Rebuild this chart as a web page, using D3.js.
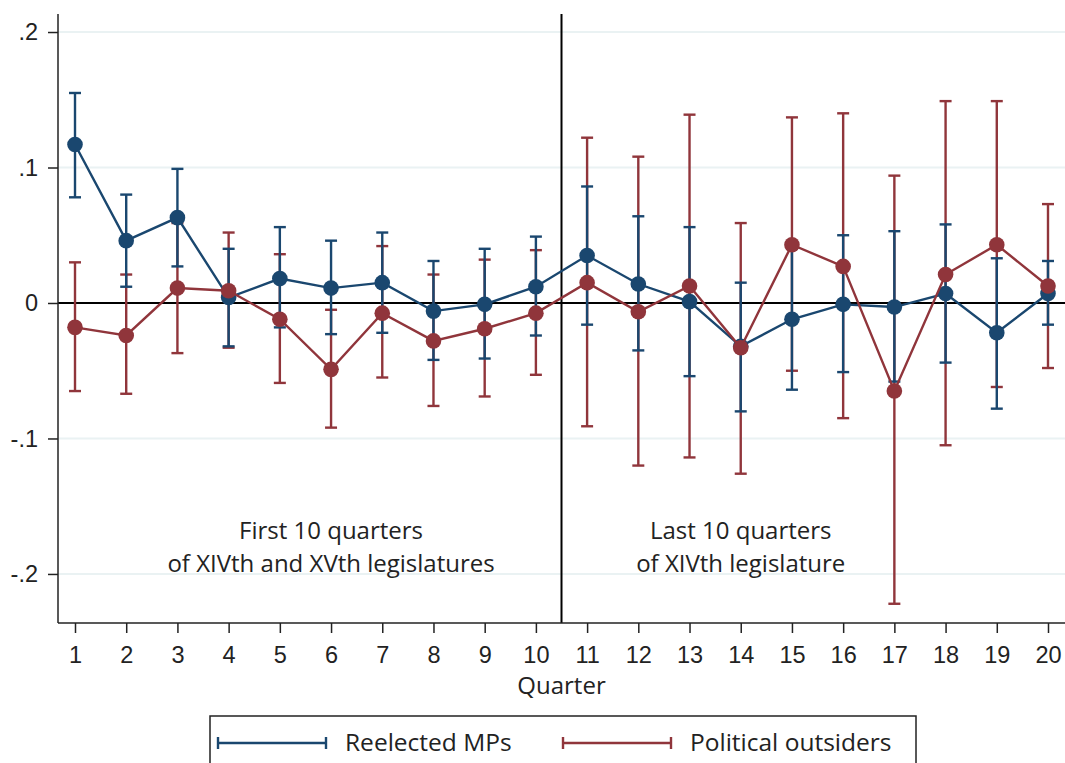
<!DOCTYPE html>
<html>
<head>
<meta charset="utf-8">
<script src="https://cdn.jsdelivr.net/npm/d3@7"></script>
<style>
  body { margin: 0; background: #fff; }
  svg { display: block; font-family: "Open Sans", sans-serif; }
  .tick text { fill: #222; }
</style>
</head>
<body>
<svg id="chart" width="1065" height="763"></svg>
<script>
// quarters 1..20
const quarters = d3.range(1, 21)
const yTicks = [-0.2, -0.1, 0, 0.1, 0.2]

// Reelected MPs: estimate and 95% CI
const reelectedEst = [0.117, 0.046, 0.063, 0.004, 0.018, 0.011, 0.015, -0.006, -0.001, 0.012,
  0.035, 0.014, 0.001, -0.032, -0.012, -0.001, -0.003, 0.007, -0.022, 0.007]
const reelectedLo = [0.078, 0.012, 0.027, -0.032, -0.018, -0.023, -0.022, -0.042, -0.041, -0.024,
  -0.016, -0.035, -0.054, -0.080, -0.064, -0.051, -0.058, -0.044, -0.078, -0.016]
const reelectedHi = [0.155, 0.080, 0.099, 0.040, 0.056, 0.046, 0.052, 0.031, 0.040, 0.049,
  0.086, 0.064, 0.056, 0.015, 0.040, 0.050, 0.053, 0.058, 0.033, 0.031]

// Political outsiders: estimate and 95% CI
const outsiderEst = [-0.018, -0.024, 0.011, 0.009, -0.012, -0.049, -0.0075, -0.028, -0.019, -0.0075,
  0.015, -0.0065, 0.0125, -0.033, 0.043, 0.027, -0.065, 0.021, 0.043, 0.0125]
const outsiderLo = [-0.065, -0.067, -0.037, -0.033, -0.059, -0.092, -0.055, -0.076, -0.069, -0.053,
  -0.091, -0.120, -0.114, -0.126, -0.050, -0.085, -0.222, -0.105, -0.062, -0.048]
const outsiderHi = [0.030, 0.021, 0.059, 0.052, 0.036, -0.005, 0.042, 0.021, 0.032, 0.039,
  0.122, 0.108, 0.139, 0.059, 0.137, 0.140, 0.094, 0.149, 0.149, 0.073]

const series = [
  { name: 'Reelected MPs', color: '#1a476f', est: reelectedEst, lo: reelectedLo, hi: reelectedHi },
  { name: 'Political outsiders', color: '#90353b', est: outsiderEst, lo: outsiderLo, hi: outsiderHi }
]

const svg = d3.select('#chart')
const plotL = 58, plotR = 1065, plotT = 14, plotB = 623

const x = d3.scaleLinear().domain([0.668, 20.332]).range([plotL, plotR])
const y = d3.scaleLinear().domain([-0.2362, 0.2133]).range([plotB, plotT])

// grid
svg.append('g').selectAll('line').data(yTicks.filter(d => d !== 0))
  .enter().append('line')
  .attr('x1', plotL).attr('x2', plotR)
  .attr('y1', d => y(d)).attr('y2', d => y(d))
  .attr('stroke', '#eaf2f3').attr('stroke-width', 2)

// reference lines
svg.append('line')
  .attr('x1', plotL).attr('x2', plotR).attr('y1', y(0)).attr('y2', y(0))
  .attr('stroke', '#000').attr('stroke-width', 2.2)
svg.append('line')
  .attr('x1', x(10.5)).attr('x2', x(10.5)).attr('y1', plotT).attr('y2', plotB)
  .attr('stroke', '#000').attr('stroke-width', 2)

// axes
const fmt = d => d === 0 ? '0' : (d < 0 ? '-' : '') + String(Math.abs(d)).replace('0.', '.')
const yAxis = svg.append('g').attr('transform', `translate(${plotL},0)`)
  .call(d3.axisLeft(y).tickValues(yTicks).tickFormat(fmt).tickSize(10).tickPadding(10))
const xAxis = svg.append('g').attr('transform', `translate(0,${plotB})`)
  .call(d3.axisBottom(x).tickValues(quarters).tickFormat(d3.format('d')).tickSize(10).tickPadding(13))

;[yAxis, xAxis].forEach(a => {
  a.select('.domain').remove()
  a.selectAll('.tick line').attr('stroke', '#222').attr('stroke-width', 1.5)
  a.selectAll('.tick text').style('font-size', '23.5px')
})
svg.append('line').attr('x1', plotL).attr('x2', plotL).attr('y1', plotT).attr('y2', plotB)
  .attr('stroke', '#222').attr('stroke-width', 1.5)
svg.append('line').attr('x1', plotL).attr('x2', plotR).attr('y1', plotB).attr('y2', plotB)
  .attr('stroke', '#222').attr('stroke-width', 1.5)

svg.append('text').attr('x', x(10.5)).attr('y', 694)
  .attr('text-anchor', 'middle').style('font-size', '24px').attr('fill', '#222')
  .text('Quarter')

// error bars (outsiders first, then reelected)
const capW = 6
;[series[1], series[0]].forEach(s => {
  const g = svg.append('g').attr('stroke', s.color).attr('stroke-width', 2.4)
  quarters.forEach((q, i) => {
    g.append('line').attr('x1', x(q)).attr('x2', x(q)).attr('y1', y(s.lo[i])).attr('y2', y(s.hi[i]))
    g.append('line').attr('x1', x(q) - capW).attr('x2', x(q) + capW).attr('y1', y(s.lo[i])).attr('y2', y(s.lo[i]))
    g.append('line').attr('x1', x(q) - capW).attr('x2', x(q) + capW).attr('y1', y(s.hi[i])).attr('y2', y(s.hi[i]))
  })
})

// connected lines + markers
series.forEach(s => {
  const line = d3.line().x((d, i) => x(quarters[i])).y(d => y(d))
  svg.append('path').datum(s.est)
    .attr('d', line).attr('fill', 'none')
    .attr('stroke', s.color).attr('stroke-width', 2.4)
  svg.append('g').selectAll('circle').data(s.est)
    .enter().append('circle')
    .attr('cx', (d, i) => x(quarters[i])).attr('cy', d => y(d))
    .attr('r', 7.8).attr('fill', s.color)
})

// annotations (two lines each)
const notes = [
  { x: 6, lines: ['First 10 quarters', 'of XIVth and XVth legislatures'] },
  { x: 14, lines: ['Last 10 quarters', 'of XIVth legislature'] }
]
notes.forEach(n => {
  n.lines.forEach((s, k) => {
    svg.append('text').attr('text-anchor', 'middle')
      .attr('x', x(n.x)).attr('y', 539 + k * 33)
      .style('font-size', '24px').attr('fill', '#222')
      .text(s)
  })
})

// legend
svg.append('rect').attr('x', 210).attr('y', 716).attr('width', 706).attr('height', 70)
  .attr('fill', '#fff').attr('stroke', '#222').attr('stroke-width', 1.5)
const legendX = [218, 563]
series.forEach((s, i) => {
  const g = svg.append('g').attr('transform', `translate(${legendX[i]},743)`)
  g.append('line').attr('x1', 0).attr('x2', 108).attr('stroke', s.color).attr('stroke-width', 2.4)
  g.append('line').attr('x1', 0).attr('x2', 0).attr('y1', -6).attr('y2', 6).attr('stroke', s.color).attr('stroke-width', 2.4)
  g.append('line').attr('x1', 108).attr('x2', 108).attr('y1', -6).attr('y2', 6).attr('stroke', s.color).attr('stroke-width', 2.4)
  g.append('text').attr('x', 127).attr('y', 8).style('font-size', '24.5px').attr('fill', '#222').text(s.name)
})
</script>
</body>
</html>
